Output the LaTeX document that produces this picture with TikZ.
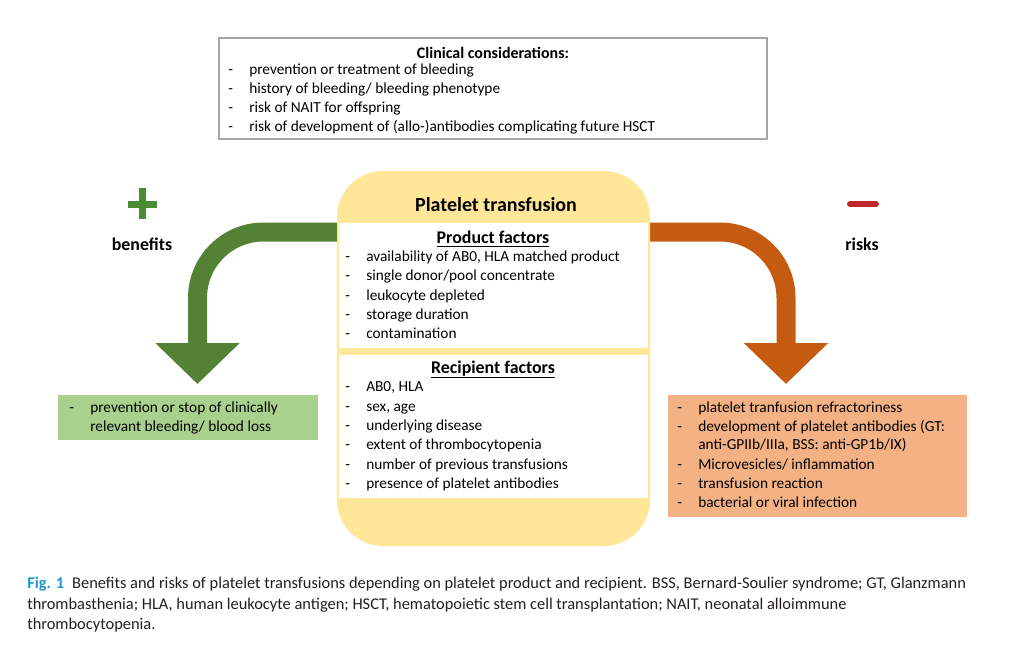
\documentclass[tikz,border=0pt]{standalone}
\usepackage{fontspec}
\setmainfont{Carlito}
\usetikzlibrary{arrows.meta}

\newdimen\pxu \pxu=0.75pt
\definecolor{tfyellow}{HTML}{FFE699}
\definecolor{boxgrey}{HTML}{A6A6A6}
\definecolor{bengreen}{HTML}{548235}
\definecolor{benbox}{HTML}{A9D18E}
\definecolor{plusgreen}{HTML}{4A8C34}
\definecolor{riskorange}{HTML}{C55A11}
\definecolor{riskbox}{HTML}{F4B183}
\definecolor{minusred}{HTML}{C0272D}
\definecolor{figblue}{HTML}{1E96D2}
\definecolor{captext}{HTML}{231F20}

\newcommand\lidash[1]{\makebox[21\pxu][l]{-}#1}
\newcommand\itemfont{\fontsize{11.5}{13}\selectfont}

\tikzset{
  lst/.style={anchor=mid west, inner sep=0pt, font=\itemfont},
  head/.style={inner sep=0pt, font=\fontsize{13.4}{15}\selectfont\bfseries},
  side/.style={inner sep=0pt, font=\fontsize{13.4}{15}\selectfont\bfseries},
  panel/.style={fill=white, draw=none, minimum width=309*\pxu},
  bigarrow/.style={line width=19*\pxu, rounded corners=66*\pxu,
    -{Triangle[length=30.75pt, width=61.5pt]}},
  captxt/.style={anchor=mid west, inner sep=0pt, text=captext, font=\fontsize{12.3}{14}\selectfont}
}

\begin{document}
\begin{tikzpicture}[x=0.75pt, y=-0.75pt]
  \fill[white] (0,0) rectangle (1032,650);
  \useasboundingbox (0,0) rectangle (1032,650);

  % Clinical considerations
  \node[draw=boxgrey, line width=2*\pxu, minimum width=548*\pxu, minimum height=101*\pxu] (clin) at (493,88.5) {};
  \node[inner sep=0pt, font=\fontsize{12}{14}\selectfont\bfseries] (clint) at (493,53) {Clinical considerations:};
  \foreach \t [count=\i] in {prevention or treatment of bleeding, history of bleeding/ bleeding phenotype,
      risk of NAIT for offspring, risk of development of (allo-)antibodies complicating future HSCT}
    \node[lst] (cl\i) at (228,52+19*\i) {\lidash{\t}};

  % Arrows (under the box)
  \coordinate (gstart) at (345,232);
  \coordinate (gtip) at (197.5,384);
  \coordinate (rstart) at (642,232);
  \coordinate (rtip) at (786,384);
  \draw[bigarrow, bengreen] (gstart) -| (gtip);
  \draw[bigarrow, riskorange] (rstart) -| (rtip);

  % Platelet transfusion
  \node[fill=tfyellow, minimum width=313*\pxu, minimum height=375*\pxu, rounded corners=46*\pxu] (tf) at (493.5,358.5) {};
  \node[inner sep=0pt, font=\fontsize{15}{17}\selectfont\bfseries] (tft) at (496,205) {Platelet transfusion};
  \node[panel, minimum height=125*\pxu] (pf) at (493.5,285.5) {};
  \node[panel, minimum height=143*\pxu] (rf) at (493.5,426.5) {};

  % Product factors
  \node[head] (pft) at (493,239) {\underline{Product factors}};
  \foreach \t [count=\i] in {{availability of AB0, HLA matched product}, single donor/pool concentrate,
      leukocyte depleted, storage duration, contamination}
    \node[lst] (pf\i) at (345,239+19.3*\i) {\lidash{\t}};

  % Recipient factors
  \node[head] (rft) at (493,369.5) {\underline{Recipient factors}};
  \foreach \t [count=\i] in {{AB0, HLA}, {sex, age}, underlying disease, extent of thrombocytopenia,
      number of previous transfusions, presence of platelet antibodies}
    \node[lst] (rf\i) at (345,369.5+19.3*\i) {\lidash{\t}};

  % benefits
  \draw[plusgreen, line width=7*\pxu] (128,204) -- (157,204) (142.5,188) -- (142.5,219);
  \node[side] (ben) at (142,244) {benefits};
  \node[fill=benbox, minimum width=260*\pxu, minimum height=45*\pxu] (benb) at (188,417.5) {};
  \node[lst] (b1) at (69,409) {\lidash{prevention or stop of clinically}};
  \node[lst] (b2) at (69,428) {\makebox[21\pxu]{}relevant bleeding/ blood loss};

  % risks
  \draw[minusred, line width=6*\pxu, line cap=round] (850,204) -- (876,204);
  \node[side] (risk) at (862,244) {risks};
  \node[fill=riskbox, minimum width=299*\pxu, minimum height=122*\pxu] (riskb) at (817.5,456) {};
  \node[lst] (r1) at (677,409) {\lidash{platelet tranfusion refractoriness}};
  \node[lst] (r2) at (677,428) {\lidash{development of platelet antibodies (GT:}};
  \node[lst] (r3) at (677,446.5) {\makebox[21\pxu]{}anti-GPIIb/IIIa, BSS: anti-GP1b/IX)};
  \node[lst] (r4) at (677,466) {\lidash{Microvesicles/ inflammation}};
  \node[lst] (r5) at (677,485) {\lidash{transfusion reaction}};
  \node[lst] (r6) at (677,504) {\lidash{bacterial or viral infection}};

  % caption
  \node[captxt] (cap1) at (27,585) {\textcolor{figblue}{\bfseries Fig. 1}\hspace{8\pxu}Benefits and risks of platelet transfusions depending on platelet product and recipient. BSS, Bernard-Soulier syndrome; GT, Glanzmann};
  \node[captxt] (cap2) at (27,606) {thrombasthenia; HLA, human leukocyte antigen; HSCT, hematopoietic stem cell transplantation; NAIT, neonatal alloimmune};
  \node[captxt] (cap3) at (27,626) {thrombocytopenia.};
\end{tikzpicture}
\end{document}
